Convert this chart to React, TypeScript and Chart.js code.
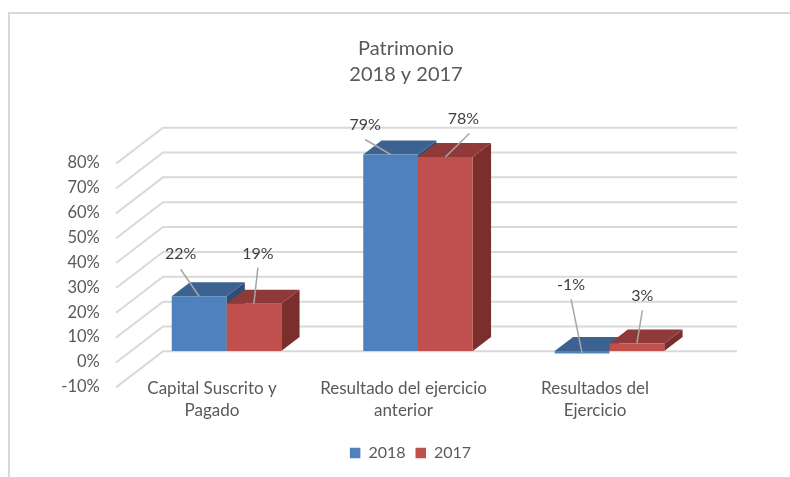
import React, { useEffect, useRef } from "react";
import { Chart, registerables } from "chart.js";

Chart.register(...registerables);

const categories = [["Capital Suscrito y", "Pagado"], ["Resultado del ejercicio", "anterior"], ["Resultados del", "Ejercicio"]];
const values2018 = [22, 79, -1];
const values2017 = [19, 78, 3];
const gridValues = [-10, 0, 10, 20, 30, 40, 50, 60, 70, 80];
const titleLines = ["Patrimonio", "2018 y 2017"];

const FONT = "Lato, Carlito, sans-serif";
const TEXT = "#595959";
const GRID = "#d9d9d9";
const faces = [
  { front: "#4f81bd", top: "#3c6291", side: "#2f4e77" },
  { front: "#c0504d", top: "#8f3a38", side: "#7a2f2d" },
];
const DEPTH_X = 18.3;
const DEPTH_Y = 14;
// label centre and leader-line start, relative to the centre/top of each bar
const labelOffsets = [
  [[-18.5, -42, -18.5, -27], [4, -50, 4, -36]],
  [[-25.5, -30, -25.5, -15], [18, -38.5, 24, -23.5]],
  [[-11, -69, -11, -54], [5.5, -48, 5.5, -33]],
];

const plugin3d = {
  id: "excel3d",
  afterLayout(chart: any) {
    chart.legend.left += 4.5;
    chart.legend.right += 4.5;
  },
  beforeDraw(chart: any) {
    const { ctx } = chart;
    ctx.save();
    ctx.strokeStyle = "#d9d9d9";
    ctx.lineWidth = 2;
    ctx.beginPath();
    ctx.moveTo(9, 477);
    ctx.lineTo(9, 13);
    ctx.lineTo(790, 13);
    ctx.stroke();
    ctx.restore();
  },
  beforeDatasetsDraw(chart: any) {
    const { ctx, scales } = chart;
    const y = scales.y;
    ctx.save();
    ctx.strokeStyle = GRID;
    ctx.lineWidth = 2;
    gridValues.forEach((v) => {
      const back = y.getPixelForValue(v) - 24.4;
      ctx.beginPath();
      ctx.moveTo(116, back + 36);
      ctx.lineTo(163, back);
      ctx.lineTo(737, back);
      ctx.stroke();
    });
    chart.data.datasets.forEach((_: any, d: number) => {
      chart.getDatasetMeta(d).data.forEach((bar: any) => {
        const p = bar.getProps(["x", "y", "base", "width"], true);
        const l = p.x - p.width / 2;
        const r = p.x + p.width / 2;
        const t = Math.min(p.y, p.base);
        const b = p.base;
        ctx.fillStyle = faces[d].side;
        ctx.beginPath();
        ctx.moveTo(r, t);
        ctx.lineTo(r + DEPTH_X, t - DEPTH_Y);
        ctx.lineTo(r + DEPTH_X, b - DEPTH_Y);
        ctx.lineTo(r, b);
        ctx.closePath();
        ctx.fill();
        ctx.fillStyle = faces[d].top;
        ctx.beginPath();
        ctx.moveTo(l, t);
        ctx.lineTo(l + DEPTH_X, t - DEPTH_Y);
        ctx.lineTo(r + DEPTH_X, t - DEPTH_Y);
        ctx.lineTo(r, t);
        ctx.closePath();
        ctx.fill();
      });
    });
    ctx.restore();
  },
  afterDatasetsDraw(chart: any) {
    const { ctx } = chart;
    ctx.save();
    chart.data.datasets.forEach((ds: any, d: number) => {
      chart.getDatasetMeta(d).data.forEach((bar: any, i: number) => {
        const p = bar.getProps(["x", "y"], true);
        const [tx, ty, lx, ly] = labelOffsets[i][d];
        ctx.strokeStyle = "#a6a6a6";
        ctx.lineWidth = 1.5;
        ctx.beginPath();
        ctx.moveTo(p.x + lx, p.y + ly);
        ctx.lineTo(p.x, p.y);
        ctx.stroke();
        ctx.fillStyle = "#404040";
        ctx.font = `16px ${FONT}`;
        ctx.textAlign = "center";
        ctx.textBaseline = "middle";
        ctx.fillText(`${ds.data[i]}%`, p.x + tx, p.y + ty);
      });
    });
    ctx.restore();
  },
};

export default function App() {
  const ref = useRef<HTMLCanvasElement>(null);
  useEffect(() => {
    const chart = new Chart(ref.current as HTMLCanvasElement, {
      type: "bar",
      plugins: [plugin3d],
      data: {
        labels: categories,
        datasets: [
          { label: "2018", data: values2018, backgroundColor: faces[0].front, xAxisID: "x", yAxisID: "y" },
          { label: "2017", data: values2017, backgroundColor: faces[1].front, xAxisID: "x", yAxisID: "y" },
        ],
      },
      options: {
        responsive: false,
        animation: false,
        layout: { padding: { left: 22, right: 0, top: 0, bottom: 6 } },
        datasets: { bar: { barPercentage: 1, categoryPercentage: 0.572 } },
        plugins: {
          tooltip: { enabled: false },
          title: {
            display: true,
            text: titleLines,
            color: TEXT,
            font: { family: FONT, size: 20, weight: "normal", lineHeight: 1.3 },
            padding: { top: 36, bottom: 51.6 },
          },
          legend: {
            position: "bottom",
            labels: {
              color: TEXT,
              font: { family: FONT, size: 16 },
              boxWidth: 10.5,
              boxHeight: 10.5,
              padding: 10,
            },
          },
        },
        scales: {
          x: {
            grid: { display: false },
            border: { display: false },
            ticks: {
              color: TEXT,
              font: { family: FONT, size: 17, lineHeight: 1.3 },
              padding: -7,
              labelOffset: -14.5,
              maxRotation: 0,
              autoSkip: false,
            },
            afterFit(s: any) { s.height = 59; },
          },
          y: {
            position: "right",
            min: -10.1,
            max: 85,
            grid: { display: false },
            border: { display: false },
            ticks: { display: false },
            afterFit(s: any) { s.width = 84.75; },
          },
          yLabels: {
            position: "left",
            min: -5.66,
            max: 89.45,
            grid: { display: false },
            border: { display: false },
            afterBuildTicks(s: any) { s.ticks = gridValues.map((value) => ({ value })); },
            afterFit(s: any) { s.width = 108.75; },
            ticks: {
              color: TEXT,
              font: { family: FONT, size: 16.5 },
              padding: 23,
              autoSkip: false,
              callback: (v: any) => `${v}%`,
            },
          },
        },
      } as any,
    });
    return () => chart.destroy();
  }, []);
  return (
    <div style={{ position: "absolute", left: 0, top: 0, width: 790, height: 477, overflow: "hidden", background: "#fff" }}>
      <canvas ref={ref} width={790} height={477} style={{ display: "block" }} />
    </div>
  );
}
